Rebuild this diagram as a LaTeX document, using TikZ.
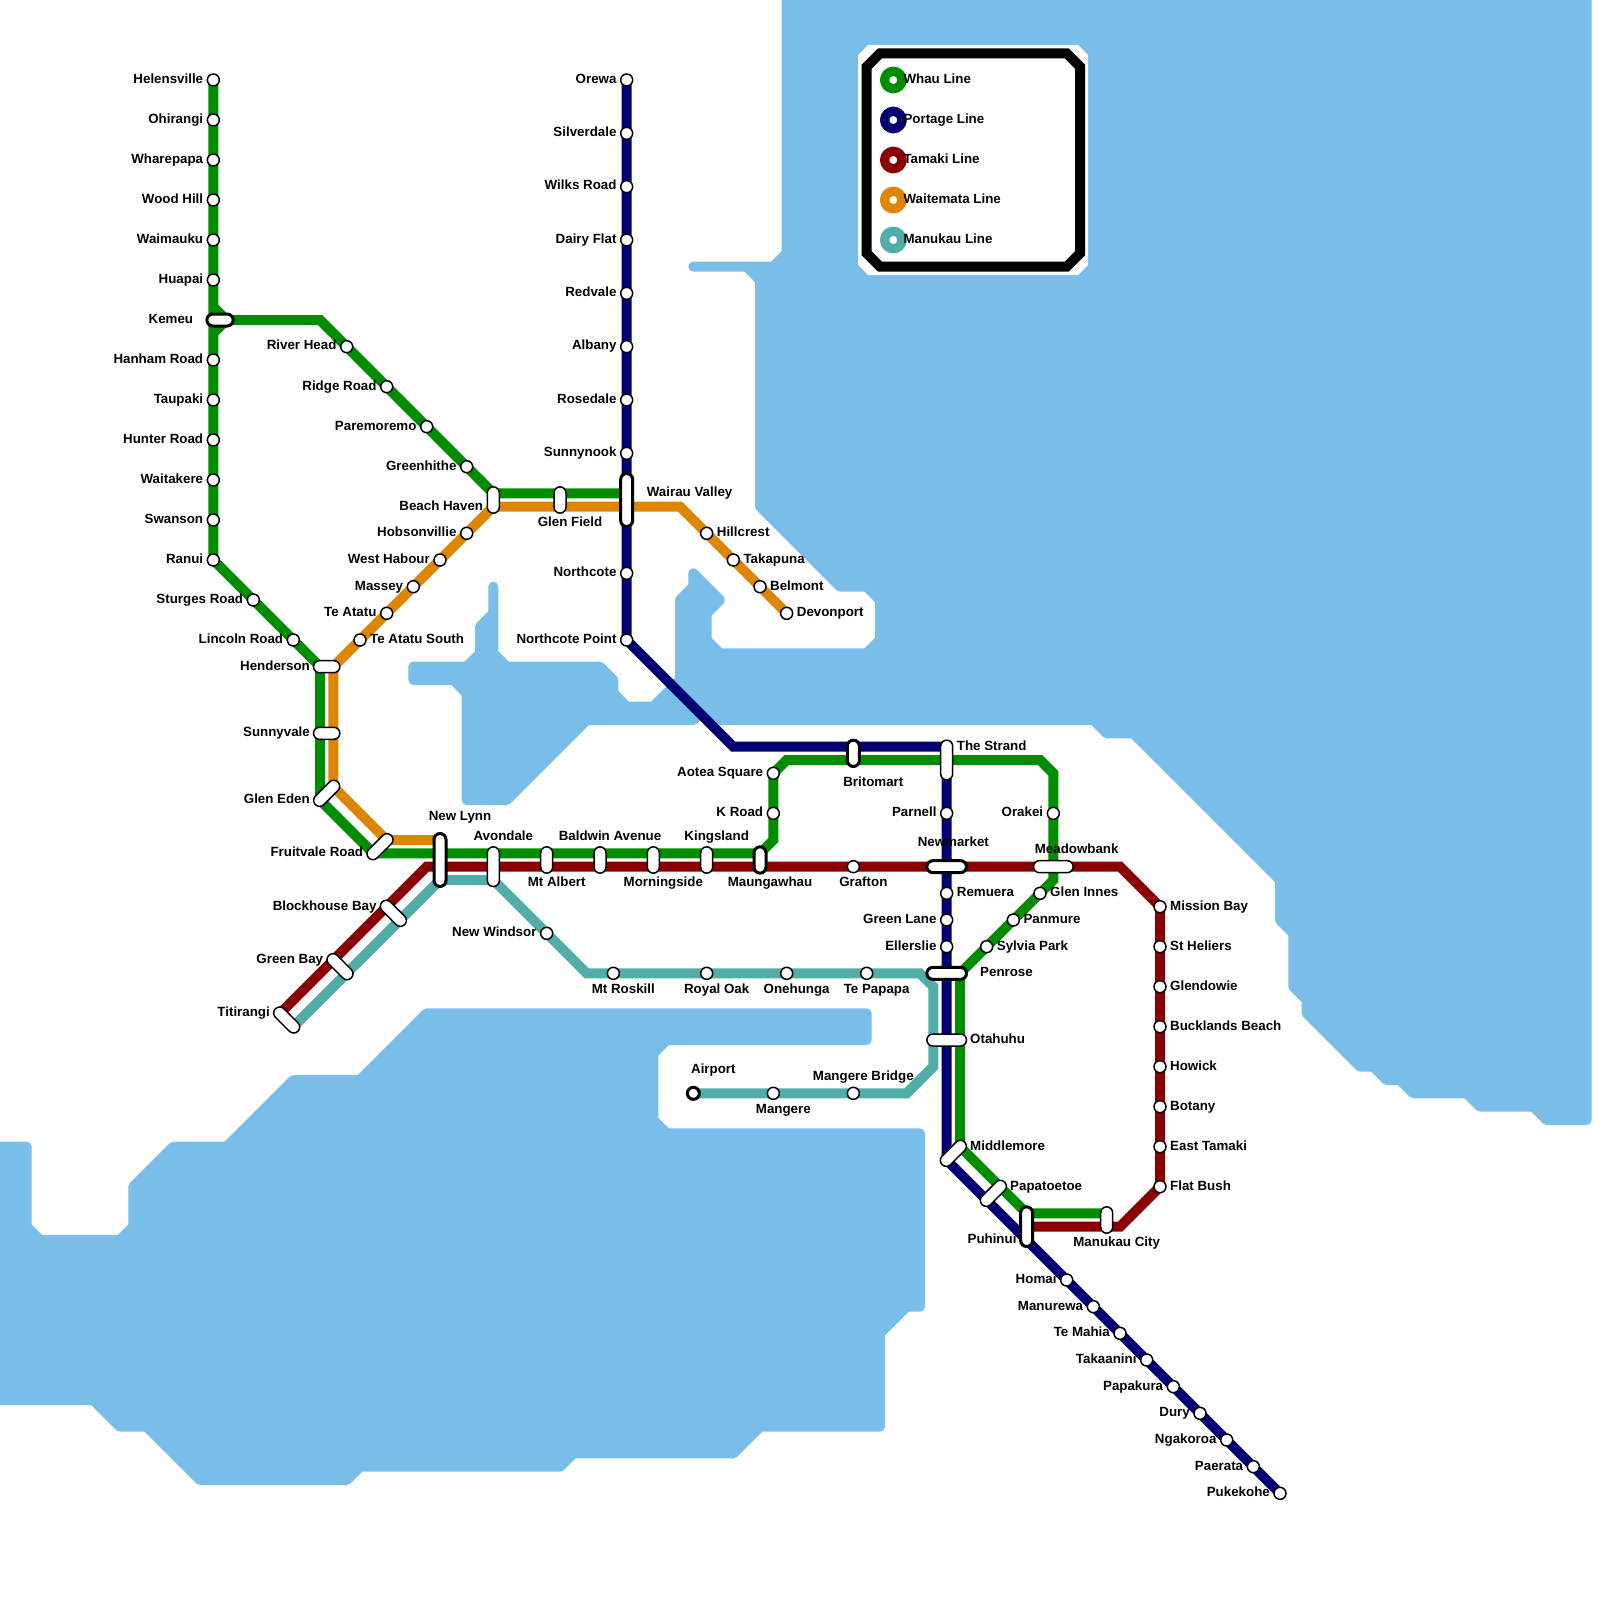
\documentclass[tikz,border=0pt]{standalone}
\usepackage{fontspec}
\setmainfont{Liberation Sans}
\usetikzlibrary{shapes.misc, backgrounds, calc}
\definecolor{seablue}{HTML}{79bde9}
\definecolor{whaugreen}{HTML}{008e00}
\definecolor{portageblue}{HTML}{000073}
\definecolor{tamakired}{HTML}{8b0000}
\definecolor{waiteorange}{HTML}{df8600}
\definecolor{manuteal}{HTML}{50ada7}

\begin{document}
\begin{tikzpicture}[
    x=13.333pt, y=-13.333pt,
    railline/.style={line width=10pt},
    whau/.style={railline, draw=whaugreen},
    portage/.style={railline, draw=portageblue},
    tamaki/.style={railline, draw=tamakired},
    waite/.style={railline, draw=waiteorange},
    manu/.style={railline, draw=manuteal},
    water/.style={fill=seablue, draw=seablue, line width=10pt, line join=round},
    stn/.style={circle, draw=black, fill=white, line width=1.5pt, minimum size=12pt, inner sep=0pt},
    stnx/.style={stn, line width=3pt, minimum size=12pt},
    pill/.style={rounded rectangle, draw=black, fill=white, line width=1.5pt, minimum height=12pt, inner sep=0pt},
    pillx/.style={pill, line width=3pt, minimum height=12pt},
    lbl/.style={font=\bfseries\fontsize{13.33}{14}\selectfont, text=black, inner sep=0pt},
    lblL/.style={lbl, anchor=base east, xshift=-10pt, yshift=-3.33pt},
    lblR/.style={lbl, anchor=base west, xshift=10pt, yshift=-3.33pt},
    key/.style={circle, fill=white, line width=9.33pt, minimum size=17.33pt, inner sep=0pt}
]
\useasboundingbox (0,0) rectangle (120,120);

% stations with the name on the left
\foreach \nm/\x/\y/\txt in {helensville/16/6/Helensville, ohirangi/16/9/Ohirangi, wharepapa/16/12/Wharepapa,
    woodhill/16/15/Wood Hill, waimauku/16/18/Waimauku, huapai/16/21/Huapai, hanham/16/27/Hanham Road,
    taupaki/16/30/Taupaki, hunter/16/33/Hunter Road, waitakere/16/36/Waitakere, swanson/16/39/Swanson,
    ranui/16/42/Ranui, sturges/19/45/Sturges Road, lincoln/22/48/Lincoln Road, riverhead/26/26/River Head,
    ridge/29/29/Ridge Road, paremoremo/32/32/Paremoremo, greenhithe/35/35/Greenhithe,
    hobsonvillie/35/40/Hobsonvillie, westhabour/33/42/West Habour, massey/31/44/Massey, teatatu/29/46/Te Atatu,
    newwindsor/41/70/New Windsor, orewa/47/6/Orewa, silverdale/47/10/Silverdale, wilks/47/14/Wilks Road,
    dairyflat/47/18/Dairy Flat, redvale/47/22/Redvale, albany/47/26/Albany, rosedale/47/30/Rosedale,
    sunnynook/47/34/Sunnynook, northcote/47/43/Northcote, ncpoint/47/48/Northcote Point,
    aotea/58/58/Aotea Square, kroad/58/61/K Road, parnell/71/61/Parnell, greenlane/71/69/Green Lane,
    ellerslie/71/71/Ellerslie, orakei/79/61/Orakei, homai/80/96/Homai, manurewa/82/98/Manurewa,
    temahia/84/100/Te Mahia, takaanini/86/102/Takaanini, papakura/88/104/Papakura, dury/90/106/Dury,
    ngakoroa/92/108/Ngakoroa, paerata/94/110/Paerata, pukekohe/96/112/Pukekohe} {
    \node[stn] (\nm) at (\x,\y) {};
    \node[lblL] (\nm-t) at (\x,\y) {\txt};
}
% stations with the name on the right
\foreach \nm/\x/\y/\txt in {hillcrest/53/40/Hillcrest, takapuna/55/42/Takapuna, belmont/57/44/Belmont,
    devonport/59/46/Devonport, teatatusth/27/48/Te Atatu South, remuera/71/67/Remuera, gleninnes/78/67/Glen Innes,
    panmure/76/69/Panmure, sylvia/74/71/Sylvia Park, missionbay/87/68/Mission Bay, stheliers/87/71/St Heliers,
    glendowie/87/74/Glendowie, bucklands/87/77/Bucklands Beach, howick/87/80/Howick, botany/87/83/Botany,
    easttamaki/87/86/East Tamaki, flatbush/87/89/Flat Bush} {
    \node[stn] (\nm) at (\x,\y) {};
    \node[lblR] (\nm-t) at (\x,\y) {\txt};
}
\foreach \nm/\x/\y in {mtroskill/46/73, royaloak/53/73, onehunga/59/73, tepapapa/65/73, grafton/64/65,
    mangere/58/82, mangerebr/64/82}
    \node[stn] (\nm) at (\x,\y) {};
\node[stnx] (airport) at (52,82) {};

% interchanges: two ends and a pill between them
\foreach \nm/\xa/\ya/\xb/\yb/\ang in {beachhaven/37/37/37/38/90, glenfield/42/37/42/38/90, henderson/24/50/25/50/0,
    sunnyvale/24/55/25/55/0, gleneden/24/60/25/59/45, fruitvale/28/64/29/63/45, avondale/37/64/37/66/90,
    mtalbert/41/64/41/65/90, baldwin/45/64/45/65/90, morningside/49/64/49/65/90, kingsland/53/64/53/65/90,
    blockhouse/29/68/30/69/-45, greenbay/25/72/26/73/-45, titirangi/21/76/22/77/-45, strand/71/56/71/58/90,
    meadowbank/78/65/80/65/0, otahuhu/70/78/72/78/0, middlemore/71/87/72/86/45, papatoetoe/74/90/75/89/45,
    manukau/83/91/83/92/90} {
    \coordinate (\nm-a) at (\xa,\ya);
    \coordinate (\nm-b) at (\xb,\yb);
    \node[pill, rotate=\ang, minimum width={veclen(\xb-\xa,\yb-\ya)*13.333pt+13pt}] (\nm) at ($(\nm-a)!.5!(\nm-b)$) {};
}
\foreach \nm/\xa/\ya/\xb/\yb/\ang in {kemeu/16/24/17/24/0, wairau/47/36/47/39/90, newlynn/33/63/33/66/90,
    maungawhau/57/64/57/65/90, britomart/64/56/64/57/90, newmarket/70/65/72/65/0, penrose/70/73/72/73/0,
    puhinui/77/91/77/93/90} {
    \coordinate (\nm-a) at (\xa,\ya);
    \coordinate (\nm-b) at (\xb,\yb);
    \node[pillx, rotate=\ang, minimum width={veclen(\xb-\xa,\yb-\ya)*13.333pt+13pt}] (\nm) at ($(\nm-a)!.5!(\nm-b)$) {};
}

% names that do not sit beside their station
\foreach \nm/\an/\x/\y/\txt in {kemeu/base east/14.5/24.25/Kemeu, beachhaven/base east/36.25/38.25/Beach Haven,
    henderson/base east/23.25/50.25/Henderson, sunnyvale/base east/23.25/55.25/Sunnyvale,
    gleneden/base east/23.25/60.25/Glen Eden, fruitvale/base east/27.25/64.25/Fruitvale Road,
    blockhouse/base east/28.25/68.25/Blockhouse Bay, greenbay/base east/24.25/72.25/Green Bay,
    titirangi/base east/20.25/76.25/Titirangi, puhinui/base east/76.25/93.25/Puhinui,
    wairau/base west/48.5/37.25/Wairau Valley, strand/base west/71.75/56.25/The Strand,
    penrose/base west/73.5/73.25/Penrose, otahuhu/base west/72.75/78.25/Otahuhu,
    middlemore/base west/72.75/86.25/Middlemore, papatoetoe/base west/75.75/89.25/Papatoetoe,
    newlynn/base/34.5/61.5/New Lynn, avondale/base/37.75/63/Avondale, baldwin/base/45.75/63/Baldwin Avenue,
    kingsland/base/53.75/63/Kingsland, glenfield/base/42.75/39.5/Glen Field, mtalbert/base/41.75/66.5/Mt Albert,
    morningside/base/49.75/66.5/Morningside, maungawhau/base/57.75/66.5/Maungawhau, britomart/base/65.5/59/Britomart,
    newmarket/base/71.5/63.5/Newmarket, meadowbank/base/80.75/64/Meadowbank, manukau/base/83.75/93.5/Manukau City,
    mtroskill/base/46.75/74.5/Mt Roskill, royaloak/base/53.75/74.5/Royal Oak, onehunga/base/59.75/74.5/Onehunga,
    tepapapa/base/65.75/74.5/Te Papapa, grafton/base/64.75/66.5/Grafton, airport/base/53.5/80.5/Airport,
    mangere/base/58.75/83.5/Mangere, mangerebr/base/64.75/81/Mangere Bridge}
    \node[lbl, anchor=\an] (\nm-t) at (\x,\y) {\txt};

% bends
\foreach \nm/\x/\y in {kemeuup/16/23, kemeudn/16/25, kemeuE/24/24, whauN/47/37, whauNL/33/64, whauM/58/63, whauA/59/57,
    whauS/71/57, whauO/78/57, whauOb/79/58, whauG/79/66, waiteW/47/38, waiteV/51/38, waiteL/33/63, tamakiL/32/65,
    tamakiA/37/65, tamakiE/84/65, tamakiS/84/92, tamakiP/77/92, portageB/55/56, manuR/44/73, manuT/69/73, manuTb/70/74,
    manuB/70/80, manuBb/68/82}
    \coordinate (\nm) at (\x,\y);

% legend
\foreach \nm/\col/\y/\txt in {keywhau/whaugreen/6/Whau Line, keyportage/portageblue/9/Portage Line,
    keytamaki/tamakired/12/Tamaki Line, keywaite/waiteorange/15/Waitemata Line, keymanu/manuteal/18/Manukau Line} {
    \node[key, draw=\col] (\nm) at (67,\y) {};
    \node[lblR] (\nm-t) at (67,\y) {\txt};
}

\begin{scope}[on background layer]
\fill[white] (0,0) rectangle (120,120);
\draw[water] (59,-1) -- (119,-1) -- (119,84) -- (116,84) -- (115,83) -- (111,83) -- (110,82) -- (106,82) -- (105,81)
    -- (104,81) -- (103,80) -- (102,80) -- (98,76) -- (98,75) -- (97,74) -- (97,70) -- (96,69) -- (96,66) -- (85,55)
    -- (83,55) -- (82,54) -- (54,54) -- (53,53) -- (52,54) -- (44,54) -- (38,60) -- (35,60) -- (35,52) -- (34,51)
    -- (31,51) -- (31,50) -- (35,50) -- (36,49) -- (36,47) -- (37,46) -- (37,44) -- (37,49) -- (38,50) -- (45,50)
    -- (46,51) -- (46,52) -- (47,53) -- (49,53) -- (51,51) -- (51,45) -- (52,44) -- (52,43) -- (54,45) -- (53,46)
    -- (53,48) -- (54,49) -- (65,49) -- (66,48) -- (66,45) -- (65,44) -- (63,44) -- (57,38) -- (57,21) -- (56,20)
    -- (52,20) -- (58,20) -- (59,19) -- cycle;
\draw[water] (-1,86) -- (2,86) -- (2,92) -- (3,93) -- (9,93) -- (10,92) -- (10,89) -- (13,86) -- (17,86) -- (22,81)
    -- (27,81) -- (32,76) -- (65,76) -- (65,78) -- (50,78) -- (49,79) -- (49,84) -- (50,85) -- (69,85) -- (69,98)
    -- (68,98) -- (66,100) -- (66,107) -- (57,107) -- (55,109) -- (43,109) -- (42,110) -- (27,110) -- (26,111)
    -- (15,111) -- (11,107) -- (9,107) -- (7,105) -- (-1,105) -- cycle;
\fill[white] (65.1,3.375) -- (80.85,3.375) -- (81.6,4.125) -- (81.6,19.875) -- (80.85,20.625) -- (65.1,20.625)
    -- (64.35,19.875) -- (64.35,4.125) -- cycle;
\draw[black, line width=10pt] (66,4) -- (80,4) -- (81,5) -- (81,19) -- (80,20) -- (66,20) -- (65,19) -- (65,5) -- cycle;

\draw[manu] (titirangi-b) -- (greenbay-b) -- (blockhouse-b) -- (newlynn-b) -- (avondale-b) -- (newwindsor.center)
    -- (manuR) -- (mtroskill.center) -- (royaloak.center) -- (onehunga.center) -- (tepapapa.center) -- (manuT) -- (manuTb)
    -- (otahuhu-a) -- (manuB) -- (manuBb) -- (mangerebr.center) -- (mangere.center) -- (airport.center);
\draw[waite] (devonport.center) -- (belmont.center) -- (takapuna.center) -- (hillcrest.center) -- (waiteV) -- (waiteW)
    -- (glenfield-b) -- (beachhaven-b) -- (hobsonvillie.center) -- (westhabour.center) -- (massey.center)
    -- (teatatu.center) -- (teatatusth.center) -- (henderson-b) -- (sunnyvale-b) -- (gleneden-b) -- (fruitvale-b)
    -- (waiteL);
\draw[tamaki] (titirangi-a) -- (greenbay-a) -- (blockhouse-a) -- (tamakiL) -- (tamakiA) -- (mtalbert-b) -- (baldwin-b)
    -- (morningside-b) -- (kingsland-b) -- (maungawhau-b) -- (grafton.center) -- (newmarket.center)
    -- (meadowbank.center) -- (tamakiE) -- (missionbay.center) -- (stheliers.center) -- (glendowie.center)
    -- (bucklands.center) -- (howick.center) -- (botany.center) -- (easttamaki.center) -- (flatbush.center)
    -- (tamakiS) -- (manukau-b) -- (tamakiP);
\draw[whau] (helensville.center) -- (ohirangi.center) -- (wharepapa.center) -- (woodhill.center) -- (waimauku.center)
    -- (huapai.center) -- (hanham.center) -- (taupaki.center) -- (hunter.center) -- (waitakere.center)
    -- (swanson.center) -- (ranui.center) -- (sturges.center) -- (lincoln.center) -- (henderson-a) -- (sunnyvale-a)
    -- (gleneden-a) -- (fruitvale-a) -- (whauNL) -- (avondale-a) -- (mtalbert-a) -- (baldwin-a) -- (morningside-a)
    -- (kingsland-a) -- (maungawhau-a) -- (whauM) -- (kroad.center) -- (aotea.center) -- (whauA) -- (britomart-b)
    -- (whauS) -- (whauO) -- (whauOb) -- (orakei.center) -- (meadowbank.center) -- (whauG) -- (gleninnes.center)
    -- (panmure.center) -- (sylvia.center) -- (penrose-b) -- (otahuhu-b) -- (middlemore-b) -- (papatoetoe-b)
    -- (puhinui-a) -- (manukau-a);
\draw[whau] (kemeuup) -- (kemeu-b) -- (kemeudn);
\draw[whau] (kemeu-b) -- (kemeuE) -- (riverhead.center) -- (ridge.center) -- (paremoremo.center) -- (greenhithe.center)
    -- (beachhaven-a) -- (glenfield-a) -- (whauN);
\draw[portage] (orewa.center) -- (silverdale.center) -- (wilks.center) -- (dairyflat.center) -- (redvale.center)
    -- (albany.center) -- (rosedale.center) -- (sunnynook.center) -- (northcote.center) -- (ncpoint.center)
    -- (portageB) -- (britomart-a) -- (strand-a) -- (parnell.center) -- (remuera.center) -- (greenlane.center)
    -- (ellerslie.center) -- (middlemore-a) -- (papatoetoe-a) -- (puhinui-b) -- (homai.center) -- (manurewa.center)
    -- (temahia.center) -- (takaanini.center) -- (papakura.center) -- (dury.center) -- (ngakoroa.center)
    -- (paerata.center) -- (pukekohe.center);
\end{scope}
\end{tikzpicture}
\end{document}
